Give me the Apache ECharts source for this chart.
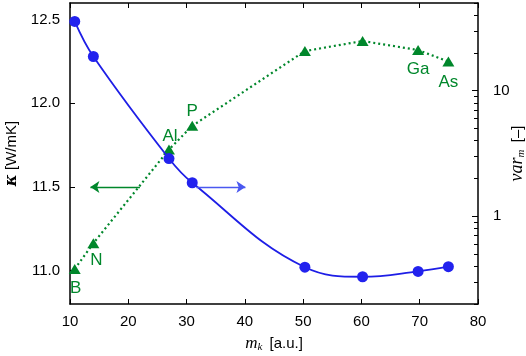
<!DOCTYPE html>
<html><head><meta charset="utf-8">
<script src="https://cdn.jsdelivr.net/npm/echarts@6/dist/echarts.min.js"></script>
<style>html,body{margin:0;padding:0;background:#fff}#c{width:526px;height:356px}</style>
</head><body><div id="c"></div>
<script>
const massX = [10.81, 14.01, 26.98, 30.97, 50.3, 60.2, 69.72, 74.92];
const kappa = [12.49, 12.28, 11.67, 11.525, 11.02, 10.963, 10.995, 11.023];
const variance = [0.38, 0.61, 3.4, 5.25, 20.7, 24.9, 21.1, 17.1];
const elemLabels = ['B', 'N', 'Al', 'P', '', '', 'Ga', 'As'];
const xTicks = [10, 20, 30, 40, 50, 60, 70, 80];
const leftTicks = [11.0, 11.5, 12.0, 12.5];
const rightMajor = [1, 10];
const rightMinor = [0.2,0.3,0.4,0.5,0.6,0.7,0.8,0.9,2,3,4,5,6,7,8,9,20,30,40,50];
const greenArrow = [[22, 11.5], [13.5, 11.5]];
const blueArrow = [[31.7, 11.5], [40.1, 11.5]];

const GREEN = '#00872b', BLUE = '#1e1ee6', FONT = 'Liberation Sans';
const labelPos = {
  B: {position: 'bottom', offset: [1, 1]},
  N: {position: 'bottom', offset: [3, -1]},
  Al: {position: 'top', offset: [1, 5]},
  P: {position: 'top', offset: [0, 4]},
  Ga: {position: 'bottom', offset: [0, 1]},
  As: {position: 'bottom', offset: [0, 2]}
};
const greenData = massX.map((x, i) => {
  const lab = elemLabels[i];
  const d = {value: [x, variance[i]]};
  if (lab) d.label = Object.assign({show: true, formatter: lab, color: GREEN, fontSize: 17, fontFamily: FONT}, labelPos[lab]);
  return d;
});
const chart = echarts.init(document.getElementById('c'));
const axisLine = {show: true, lineStyle: {color: '#000', width: 1.5}};
chart.setOption({
  animation: false,
  grid: {left: 70, right: 48, top: 3, bottom: 52, containLabel: false, outerBoundsMode: 'none'},
  xAxis: [{
    type: 'value', min: 10, max: 80, interval: 10,
    axisLine, splitLine: {show: false},
    axisTick: {inside: true, length: 5, customValues: xTicks, lineStyle: {color: '#000'}},
    axisLabel: {customValues: xTicks, color: '#000', fontSize: 15, fontFamily: FONT, margin: 10},
    name: '{i|m}{s|k} [a.u.]', nameLocation: 'middle', nameGap: 30, nameMoveOverlap: false,
    nameTextStyle: {color: '#000', fontSize: 15, fontFamily: FONT,
      rich: {i: {fontFamily: 'Liberation Serif', fontStyle: 'italic', fontSize: 17},
             s: {fontFamily: 'Liberation Serif', fontStyle: 'italic', fontSize: 11, padding: [8, 3, 0, 0]}}}
  }, {
    type: 'value', min: 10, max: 80, interval: 10, position: 'top',
    axisLine, splitLine: {show: false},
    axisTick: {inside: true, length: 5, customValues: xTicks, lineStyle: {color: '#000'}},
    axisLabel: {show: false}
  }],
  yAxis: [{
    type: 'value', min: 10.8, max: 12.6,
    axisLine, splitLine: {show: false},
    axisTick: {inside: true, length: 5, customValues: leftTicks, lineStyle: {color: '#000'}},
    axisLabel: {customValues: leftTicks, color: '#000', fontSize: 15, fontFamily: FONT, margin: 10,
      formatter: v => v.toFixed(1)},
    name: '{k|κ} [W/mK]', nameLocation: 'middle', nameGap: 50, nameRotate: 90, nameMoveOverlap: false,
    nameTextStyle: {color: '#000', fontSize: 15, fontFamily: FONT,
      rich: {k: {fontFamily: 'DejaVu Serif', fontWeight: 'bold', fontStyle: 'italic', fontSize: 16}}}
  }, {
    type: 'log', logBase: 10, min: 0.2, max: 50, position: 'right',
    axisLine, splitLine: {show: false},
    axisTick: {inside: true, length: 6, customValues: rightMajor, lineStyle: {color: '#000'}},
    axisLabel: {customValues: rightMajor, color: '#000', fontSize: 15, fontFamily: FONT, margin: 15,
      formatter: v => String(Math.round(v))},
    name: '{i|var}{s|m} [–]', nameLocation: 'middle', nameGap: 30, nameRotate: 90, nameMoveOverlap: false,
    nameTextStyle: {color: '#000', fontSize: 15, fontFamily: FONT,
      rich: {i: {fontFamily: 'Liberation Serif', fontStyle: 'italic', fontSize: 18},
             s: {fontFamily: 'Liberation Serif', fontStyle: 'italic', fontSize: 11, padding: [8, 3, 0, 0]}}}
  }, {
    type: 'log', logBase: 10, min: 0.2, max: 50, position: 'right',
    axisLine: {show: false}, splitLine: {show: false},
    axisTick: {inside: true, length: 4, customValues: rightMinor, lineStyle: {color: '#000'}},
    axisLabel: {show: false}
  }],
  series: [{
    type: 'line', xAxisIndex: 0, yAxisIndex: 1, data: greenData,
    lineStyle: {color: GREEN, width: 2.2, type: [2, 3]},
    symbol: 'triangle', symbolSize: [12, 10], itemStyle: {color: GREEN},
    z: 3
  }, {
    type: 'line', xAxisIndex: 0, yAxisIndex: 0, data: massX.map((x, i) => [x, kappa[i]]),
    smooth: 0.4, lineStyle: {color: BLUE, width: 1.8},
    symbol: 'circle', symbolSize: 11, itemStyle: {color: '#2222ee'},
    z: 4,
    markLine: {
      silent: true, symbol: ['none', 'arrow'], symbolSize: [9, 9],
      label: {show: false},
      lineStyle: {color: '#4a58f0', width: 1.3, type: 'solid'},
      data: [[{coord: blueArrow[0]}, {coord: blueArrow[1]}]]
    }
  }, {
    type: 'line', xAxisIndex: 0, yAxisIndex: 0, data: [],
    markLine: {
      silent: true, symbol: ['none', 'arrow'], symbolSize: [9, 9],
      label: {show: false},
      lineStyle: {color: GREEN, width: 1.3, type: 'solid'},
      data: [[{coord: greenArrow[0]}, {coord: greenArrow[1]}]]
    }
  }]
});
</script></body></html>
